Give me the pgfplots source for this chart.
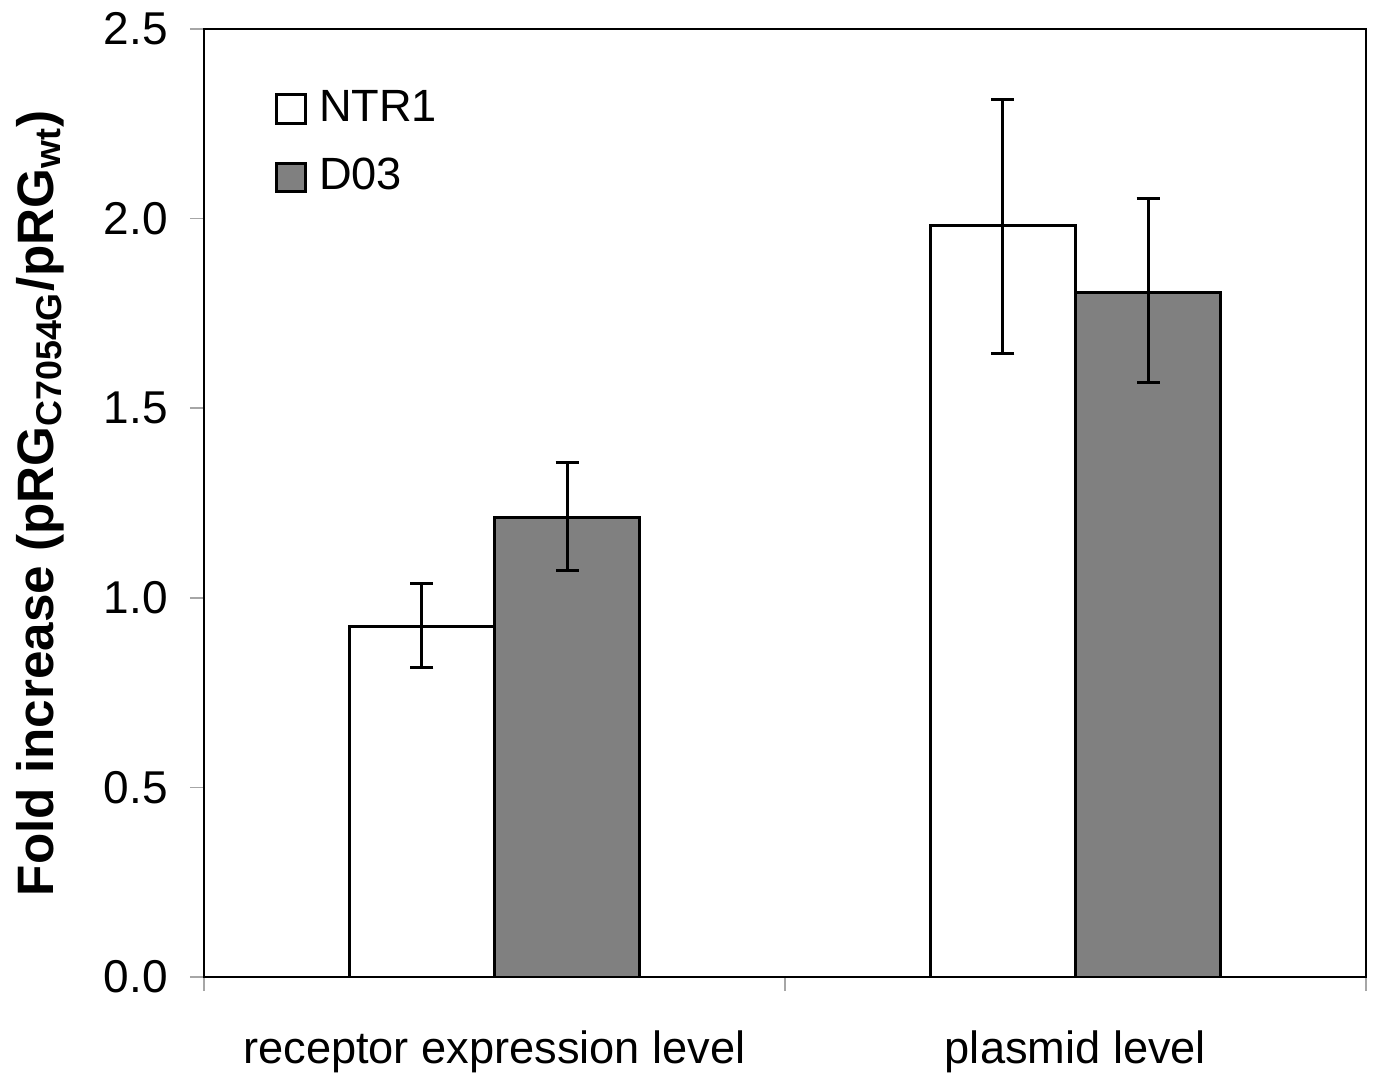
\documentclass[border=0pt]{standalone}
\usepackage{fontspec}
\setmainfont{Liberation Sans}
\usepackage{pgfplots}
\pgfplotsset{compat=1.18}
\usepackage{pgfplotstable}

\pgfplotstableread{
x y ep em
0 0.925 0.114 0.108
1 1.983 0.332 0.340
}\ntr
\pgfplotstableread{
x y ep em
0 1.211 0.146 0.138
1 1.806 0.247 0.239
}\dzt

\begin{document}
\fontsize{11.5pt}{14pt}\selectfont
\begin{tikzpicture}
\begin{axis}[
  scale only axis,
  width=290.5pt, height=237pt,
  at={(0,0)}, anchor=south west,
  ybar=0pt, bar width=0.25,
  xmin=-0.5, xmax=1.5,
  ymin=0, ymax=2.5,
  axis line style={black, line width=0.6pt},
  ytick={0,0.5,1,1.5,2,2.5},
  yticklabels={0.0,0.5,1.0,1.5,2.0,2.5},
  yticklabel style={xshift=-1.5pt, font=\fontsize{11.5pt}{14pt}\selectfont},
  xtick={-0.5,0.5,1.5},
  xticklabels={},
  extra x ticks={0,1},
  extra x tick labels={receptor expression level, plasmid level},
  extra x tick style={major tick length=0pt, tick style={draw=none}, xticklabel style={yshift=-9.5pt, font=\fontsize{11.3pt}{14pt}\selectfont}},
  tick align=outside,
  major tick length=3.5pt,
  tick style={gray!70, line width=0.4pt},
  xtick pos=bottom, ytick pos=left,
  every axis y label/.style={at={(axis description cs:-0.141,0.5)}, rotate=90, anchor=center},
  ylabel={\fontsize{12.8pt}{15pt}\selectfont\bfseries Fold increase (pRG\textsubscript{C7054G}/pRG\textsubscript{wt})},
  legend style={draw=none, fill=none, at={(axis description cs:0.060,0.945)}, anchor=north west,
    font=\fontsize{11.3pt}{14pt}\selectfont, row sep=3.6pt, inner sep=0pt},
  legend cell align=left,
  legend image code/.code={\draw[#1, line width=0.75pt] (0pt,-3.6pt) rectangle (7.25pt,3.6pt); \path[draw=none, fill=none] (7.25pt,0pt) -- (8.75pt,0pt);},
  error bars/error bar style={black, line width=0.75pt},
  error bars/error mark options={rotate=90, mark size=2.9pt, line width=0.75pt, black},
]
\addplot[draw=black, line width=0.75pt, fill=white,
  error bars/.cd, y dir=both, y explicit]
  table[x=x, y=y, y error plus=ep, y error minus=em]{\ntr};
\addlegendentry{NTR1}
\addplot[draw=black, line width=0.75pt, fill={rgb,255:red,128;green,128;blue,128},
  error bars/.cd, y dir=both, y explicit]
  table[x=x, y=y, y error plus=ep, y error minus=em]{\dzt};
\addlegendentry{D03}
\end{axis}
\pgfresetboundingbox
\path (-51pt,-24.25pt) rectangle (292.75pt,244.25pt);
\end{tikzpicture}
\end{document}
